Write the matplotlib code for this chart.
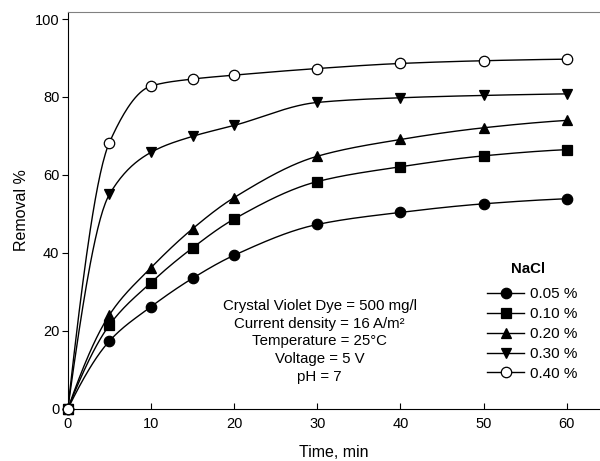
"""
Removal % vs time for Crystal Violet at different NaCl doses.
"""

import matplotlib
matplotlib.use("Agg")
import matplotlib.pyplot as plt
import numpy as np

plt.rcParams["font.family"] = ["Liberation Sans", "DejaVu Sans"]

time_min = [0, 5, 10, 15, 20, 30, 40, 50, 60]

labels = ["0.05 %", "0.10 %", "0.20 %", "0.30 %", "0.40 %"]
removal_005 = [0, 17.4, 26.2, 33.5, 39.4, 47.3, 50.4, 52.6, 53.9]
removal_010 = [0, 21.5, 32.4, 41.3, 48.7, 58.3, 62.1, 64.9, 66.5]
removal_020 = [0, 24.1, 36.2, 46.2, 54.2, 64.8, 69.1, 72.1, 74.0]
removal_030 = [0, 55.0, 65.8, 69.9, 72.7, 78.6, 79.8, 80.4, 80.8]
removal_040 = [0, 68.3, 82.8, 84.6, 85.6, 87.3, 88.6, 89.3, 89.7]

series = [removal_005, removal_010, removal_020, removal_030, removal_040]
markers = ["o", "s", "^", "v", "o"]
faces = ["black", "black", "black", "black", "white"]

notes = [
    "Crystal Violet Dye = 500 mg/l",
    "Current density = 16 A/m\u00b2",
    "Temperature = 25\u00b0C",
    "Voltage = 5 V",
    "pH = 7",
]


def pchip_curve(x, y, n=400):
    """Monotone cubic curve through the points, just for drawing the line."""
    x = np.asarray(x, float)
    y = np.asarray(y, float)
    h = np.diff(x)
    d = np.diff(y) / h
    m = np.zeros_like(y)
    for k in range(1, len(x) - 1):
        if d[k - 1] * d[k] > 0:
            w1 = 2 * h[k] + h[k - 1]
            w2 = h[k] + 2 * h[k - 1]
            m[k] = (w1 + w2) / (w1 / d[k - 1] + w2 / d[k])
    m[0] = ((2 * h[0] + h[1]) * d[0] - h[0] * d[1]) / (h[0] + h[1])
    if m[0] * d[0] <= 0:
        m[0] = 0
    m[-1] = ((2 * h[-1] + h[-2]) * d[-1] - h[-1] * d[-2]) / (h[-1] + h[-2])
    if m[-1] * d[-1] <= 0:
        m[-1] = 0
    xs = np.linspace(x[0], x[-1], n)
    idx = np.clip(np.searchsorted(x, xs) - 1, 0, len(x) - 2)
    t = (xs - x[idx]) / h[idx]
    h00 = 2 * t**3 - 3 * t**2 + 1
    h10 = t**3 - 2 * t**2 + t
    h01 = -2 * t**3 + 3 * t**2
    h11 = t**3 - t**2
    ys = (h00 * y[idx] + h10 * h[idx] * m[idx]
          + h01 * y[idx + 1] + h11 * h[idx] * m[idx + 1])
    return xs, ys


fig = plt.figure(figsize=(6.0, 4.61), dpi=100)
ax = fig.add_axes([0.113, 0.113, 0.887, 0.861])

handles = []
for vals, mk, fc, lab in zip(series, markers, faces, labels):
    xs, ys = pchip_curve(time_min, vals)
    ax.plot(xs, ys, color="black", lw=1.0, zorder=2)
    ax.plot(time_min, vals, linestyle="none", marker=mk, ms=7.5,
            mfc=fc, mec="black", mew=0.9, zorder=3, clip_on=False)
    h, = ax.plot([], [], color="black", lw=1.0, marker=mk, ms=7.5,
                 mfc=fc, mec="black", mew=0.9, label=lab)
    handles.append(h)

ax.set_xlim(0, 64)
ax.set_ylim(0, 101.8)
ax.set_xticks([0, 10, 20, 30, 40, 50, 60])
ax.set_yticks([0, 20, 40, 60, 80, 100])
ax.tick_params(axis="x", direction="in", length=4, labelsize=10.5, pad=6)
ax.tick_params(axis="y", direction="out", length=4, labelsize=10.5, pad=2)
ax.spines["right"].set_visible(False)
ax.spines["top"].set_color("#808080")
ax.set_xlabel("Time, min", fontsize=11.5, labelpad=10)
ax.set_ylabel("Removal %", fontsize=11.5, labelpad=4)

for i, line in enumerate(notes):
    ax.text(30.3, 26.4 - i * 4.55, line, ha="center", va="center",
            fontsize=10.8)

ax.text(55.4, 35.9, "NaCl", ha="center", va="center", fontsize=10.8,
        fontweight="bold")
leg = ax.legend(handles=handles, loc="upper left",
                bbox_to_anchor=(0.788, 0.306), frameon=False, fontsize=11,
                handlelength=2.4, handletextpad=0.4, labelspacing=0.38,
                borderaxespad=0, borderpad=0)

fig.savefig("out.png", dpi=100)
